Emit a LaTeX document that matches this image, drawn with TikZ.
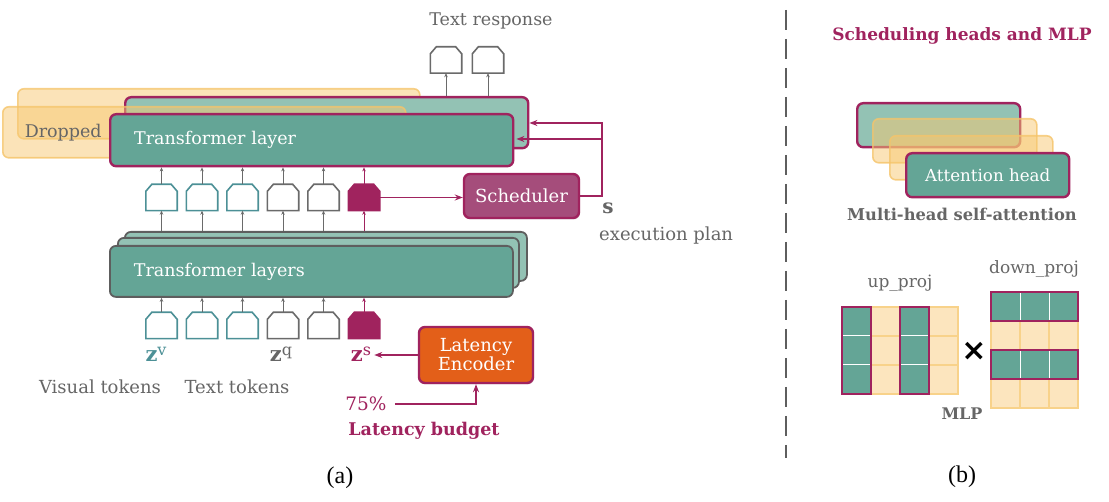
\documentclass[tikz,border=0pt]{standalone}
\usepackage{fontspec}
\setmainfont{DejaVu Serif}
\newfontfamily\capfont{Liberation Serif}
\newfontfamily\symfont{DejaVu Sans}
\usetikzlibrary{arrows.meta,positioning,shadows}

\definecolor{tealfill}{HTML}{64A596}
\definecolor{tealback}{HTML}{93C2B4}
\definecolor{magline}{HTML}{A0235E}
\definecolor{schedfill}{HTML}{A54D7B}
\definecolor{encfill}{HTML}{E35F19}
\definecolor{dropfill}{HTML}{F7C872}
\definecolor{dropline}{HTML}{F5C46A}
\definecolor{cellfill}{HTML}{FCE5BE}
\definecolor{cellline}{HTML}{F8D28A}
\definecolor{tokteal}{HTML}{4C9096}
\definecolor{tokgray}{HTML}{6A6A6A}
\definecolor{labelgray}{HTML}{666666}
\definecolor{stackline}{HTML}{5E5E5E}

% token outline drawn round an empty node
\newcommand{\drawtoken}[2]{%
  \draw[#2] (#1.south west) -- ([yshift=-7pt]#1.north west) -- ([xshift=6pt]#1.north west)
    -- ([xshift=-6pt]#1.north east) -- ([yshift=-7pt]#1.north east) -- (#1.south east) -- cycle;}
% bold z with a raised letter
\newcommand{\zvar}[1]{{\fontsize{21}{22}\selectfont\bfseries z}\raisebox{6pt}{\fontsize{16}{16}\selectfont #1}}

\begin{document}
\begin{tikzpicture}[x=1pt,y=-1pt,font=\fontsize{17.5}{20}\selectfont]
        % Define node styles
        \tikzstyle{layer} = [draw=magline, line width=2.4pt, rounded corners=6pt, fill=tealfill, anchor=north west, inner sep=0pt, text=white]
        \tikzstyle{dropbox} = [draw=dropline, line width=1.6pt, rounded corners=6pt, fill=dropfill, fill opacity=0.5, draw opacity=0.8, text opacity=1, anchor=north west, inner sep=0pt, text=labelgray]
        \tikzstyle{stackbox} = [draw=stackline, line width=1.8pt, rounded corners=6pt, fill=tealfill, anchor=north west, inner sep=0pt, text=white]
        \tikzstyle{tokbox} = [minimum width=31pt, minimum height=26pt, inner sep=0pt]
        \tikzstyle{tokv} = [draw=tokteal, line width=1.6pt, fill=white]
        \tikzstyle{tokq} = [draw=tokgray, line width=1.6pt, fill=white]
        \tikzstyle{toks} = [draw=magline, line width=1.6pt, fill=magline]
        \tikzstyle{tokarrow} = [-{Stealth[length=4pt, width=3.5pt]}, line width=0.8pt, draw=tokgray]
        \tikzstyle{planarrow} = [-{Stealth[length=8pt, width=6pt]}, line width=1.3pt, draw=magline]
        \tikzstyle{greytext} = [text=labelgray, inner sep=0pt]
        \tikzstyle{cell} = [fill=cellfill, draw=cellline, line width=1.5pt]

        \useasboundingbox (0,0) rectangle (1109,502);

        % Draw the layer boxes
        \node[dropbox, minimum width=402pt, minimum height=50pt] (dropback) at (17,88) {};
        \node[layer, fill=tealback, minimum width=403pt, minimum height=51pt] (layerback) at (124,96) {};
        \node[dropbox, minimum height=51pt, text width=359pt, inner xsep=22pt, align=left] (dropfront) at (2,106) {Dropped};
        \node[layer, minimum height=52pt, text width=355pt, inner xsep=24pt, align=left] (layerfront) at (109,113) {Transformer layer};

        \node[stackbox, fill=tealback, minimum width=402pt, minimum height=49pt] (stackback) at (124,231) {};
        \node[stackbox, fill=tealback, minimum width=401pt, minimum height=50pt] (stackmid) at (117,237) {};
        \node[stackbox, minimum height=51pt, text width=355pt, inner xsep=24pt, align=left] (stackfront) at (109,245) {Transformer layers};

        % Draw the tokens
        \foreach \i/\kind in {1/tokv,2/tokv,3/tokv,4/tokq,5/tokq,6/toks} {
            \node[tokbox] (m\i) at ({121+40.5*\i},197.5) {};
            \drawtoken{m\i}{\kind}
            \node[tokbox] (b\i) at ({121+40.5*\i},325.5) {};
            \drawtoken{b\i}{\kind}
        }
        \foreach \i/\x in {1/446,2/488} {
            \node[tokbox] (o\i) at (\x,60) {};
            \drawtoken{o\i}{tokq}
            \draw[tokarrow] (o\i.south |- layerback.north) -- (o\i.south);
        }

        \foreach \i in {1,...,5} {
            \draw[tokarrow] (b\i.north) -- (b\i.north |- stackfront.south);
            \draw[tokarrow] (m\i.south |- stackback.north) -- (m\i.south);
            \draw[tokarrow] (m\i.north) -- (m\i.north |- layerfront.south);
        }
        \draw[tokarrow, draw=magline] (b6.north) -- (b6.north |- stackfront.south);
        \draw[tokarrow, draw=magline] (m6.south |- stackback.north) -- (m6.south);
        \draw[tokarrow, draw=magline] (m6.north) -- (m6.north |- layerfront.south);

        % Scheduler and latency encoder
        \node[draw=magline, line width=2.4pt, fill=schedfill, rounded corners=6pt, minimum width=115pt, minimum height=44pt, text=white, font=\fontsize{18}{20}\selectfont, drop shadow={opacity=0.25, shadow xshift=1pt, shadow yshift=-1.5pt}] (sched) at (521.5,196) {Scheduler};
        \node[draw=magline, line width=2.4pt, fill=encfill, rounded corners=6pt, minimum width=114pt, minimum height=56pt, text=white, align=center, inner sep=0pt, font=\fontsize{18}{20}\selectfont, drop shadow={opacity=0.25, shadow xshift=1pt, shadow yshift=-1.5pt}] (enc) at (476,355) {Latency\\[-1pt]Encoder};

        \draw[planarrow] (m6.east) -- (m6.east -| sched.west);
        \coordinate (bendtop) at (602,123);
        \coordinate (bendlow) at (602,139);
        \draw[planarrow] (sched.east) -| (bendtop) -- (bendtop -| layerback.east);
        \draw[planarrow] (bendlow) -- ([xshift=2pt]bendlow -| layerfront.east);

        % Labels
        \node[greytext] (resp) at (491,21) {Text response};
        \node[greytext, font=\fontsize{20}{22}\selectfont\bfseries] (plans) at (608,208) {s};
        \node[greytext, anchor=west, font=\fontsize{18}{20}\selectfont] (exec) at (599,236) {execution plan};

        \node[text=tokteal, inner sep=0pt] (zv) at (156,354) {\zvar{v}};
        \node[text=labelgray, inner sep=0pt] (zq) at (281,354) {\zvar{q}};
        \node[text=magline, inner sep=0pt] (zs) at (361,354) {\zvar{s}};
        \node[greytext, font=\fontsize{18}{20}\selectfont] (vis) at (100,387) {Visual tokens};
        \node[greytext, font=\fontsize{18}{20}\selectfont] (txt) at (237,387) {Text tokens};
        \node[text=magline, inner sep=0pt, font=\fontsize{18.5}{20}\selectfont] (pct) at (366,404) {75\%};
        \node[text=magline, inner sep=0pt, font=\fontsize{17.5}{20}\selectfont\bfseries] (budget) at (424,431) {Latency budget};

        \draw[planarrow] (enc.west) -- ([xshift=3pt]enc.west -| zs.east);
        \draw[planarrow] ([xshift=8pt]pct.east) -| (enc.south);

        % Divider
        \draw[draw=stackline, line width=2pt, dash pattern=on 20pt off 9pt] (786,10) -- (786,458);

        % Right panel: heads
        \node[text=magline, font=\fontsize{17}{20}\selectfont\bfseries, inner sep=0pt] (rtitle) at (962,36) {Scheduling heads and MLP};
        \node[layer, fill=tealback, minimum width=163pt, minimum height=44pt] (hback) at (856,102) {};
        \node[dropbox, minimum width=164pt, minimum height=44pt] (hdrop1) at (872,118) {};
        \node[dropbox, minimum width=163pt, minimum height=44pt] (hdrop2) at (889,135) {};
        \node[layer, minimum width=163pt, minimum height=44pt, anchor=north west, font=\fontsize{16.7}{19}\selectfont] (hfront) at (905,152) {Attention head};
        \node[greytext, font=\fontsize{16.3}{19}\selectfont\bfseries] (mhsa) at (962,214) {Multi-head self-attention};

        % Right panel: MLP
        \foreach \c in {0,...,3}
            \foreach \r in {0,1,2}
                \draw[cell] ({842+29*\c},{307+29*\r}) rectangle ++(29,29);
        \foreach \c in {0,2} {
            \fill[tealfill] ({842+29*\c},307) rectangle ++(29,87);
            \draw[white, line width=1pt] ({842+29*\c},336) -- ++(29,0) ({842+29*\c},365) -- ++(29,0);
            \draw[magline, line width=2.4pt] ({842+29*\c},307) rectangle ++(29,87);
        }
        \foreach \c in {0,1,2}
            \foreach \r in {0,...,3}
                \draw[cell] ({991+29*\c},{292+29*\r}) rectangle ++(29,29);
        \foreach \r in {0,2} {
            \fill[tealfill] (991,{292+29*\r}) rectangle ++(87,29);
            \draw[white, line width=1pt] (1020,{292+29*\r}) -- ++(0,29) (1049,{292+29*\r}) -- ++(0,29);
            \draw[magline, line width=2.4pt] (991,{292+29*\r}) rectangle ++(87,29);
        }
        \node[greytext, font=\fontsize{17}{19}\selectfont] (upl) at (900,283) {up\_proj};
        \node[greytext, font=\fontsize{17}{19}\selectfont] (downl) at (1034,269) {down\_proj};
        \node[inner sep=0pt, font=\symfont\bfseries\fontsize{30}{30}\selectfont] (mult) at (974,351) {×};
        \node[greytext, font=\fontsize{16}{18}\selectfont\bfseries] (mlpl) at (962,414) {MLP};

        % Captions
        \node[inner sep=0pt, font=\capfont\fontsize{24}{26}\selectfont] (capa) at (340,478) {(a)};
        \node[inner sep=0pt, font=\capfont\fontsize{24}{26}\selectfont] (capb) at (962,477) {(b)};
\end{tikzpicture}
\end{document}
